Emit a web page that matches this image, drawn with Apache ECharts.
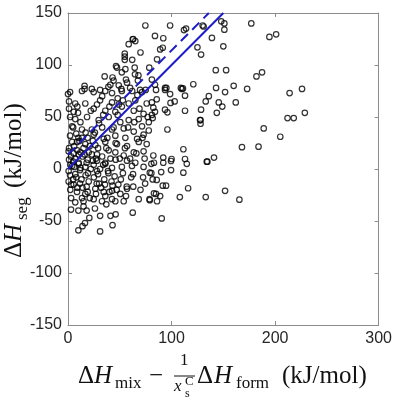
<!DOCTYPE html>
<html>
<head>
<meta charset="utf-8">
<script src="https://cdn.jsdelivr.net/npm/echarts@6/dist/echarts.min.js"></script>
<style>
  html, body { margin: 0; padding: 0; background: #fff; }
  #chart { width: 395px; height: 397px; }
</style>
</head>
<body>
<div id="chart"></div>
<script>
// axis ticks
const xTicks = [0, 100, 200, 300];
const yTicks = [-150, -100, -50, 0, 50, 100, 150];

// scatter points, grouped by region
const rightTail = [
  [130,138],[131,137],[148,142],[151,140],[151,134],[177,140],[194.5,127],[201,129.5],[139,126],[150,118],
  [128.5,110],[142.7,95],[152.7,95],[182,89],[187.4,93],[143,78],[160,80],[173,77],[151.7,74],[136,70],
  [133,65],[145.6,64],[149,60],[162,64],[214,73],[226,77],[128.5,57],[143.7,54],[128,47],[128,43.5],
  [212,49],[218,49],[228.7,54],[189,39],[205,31],[168,21],[184,21.5],[134,7],[141,11],[133,-27],
  [151.7,-21],[165.5,-29.5]
];
const middleBand = [
  [83,6],[92,6],[99.5,7.7],[114.7,5],[79,-3.5],[90,-3],[99.5,-1],[111.4,-3.5],[81.8,-10],[85.7,-10.5],
  [91.5,-16],[94.7,-16],[116,-18.5],[83,-23.4],[85,-24],[89,-26],[79,-30],[86,-31],[108,-27],[90.5,-47.5],
  [85,76],[93.7,76],[110,77],[98.6,72],[113,70.5],[85.7,67],[81,64],[99,63.5],[103,65],[82.4,59],
  [84,55],[81,52],[81.8,49],[93.7,57],[96,54.5],[113,56],[127.5,47],[96,38],[111.4,19],[82.4,13],
  [92,11],[100,9.6],[113,9.6],[134.6,7],[98.6,138],[84,128],[92,125.7],[112,133.6],[114,135],[89,115],
  [91.5,116.6],[125,117],[86,105.5],[81,86],[84,81],[93.7,78],[95,78],[109,78],[111,77.5],[121,81.5]
];
const upperLeft = [
  [74.7,138],[62.5,124.7],[65,123],[58.6,120],[54.8,111],[54.8,108],[54.8,105],[46.4,99],[47.3,97.5],[55.4,96],
  [64.4,97.4],[78.5,97.4],[35.4,89],[44,85],[56,86],[68,90],[67.5,85],[40.9,81],[39,79],[49,80.5],
  [51.5,77],[57,83],[16,80],[23,77],[31,76],[16,77],[0,72],[64.7,91],[69.6,76],[63,125]
];
const denseUpper = [
  [2,74],[13.5,75],[24.8,74],[36,75],[42.5,73],[52,75],[62,75],[67,71],[71.5,74],
  [1,65],[7,63],[16.7,63],[31,66],[42.5,64],[49,62],[58.6,63],[65,66],[76,63],
  [1,58],[5.5,55],[9.7,54],[24.8,58],[36,56],[45.7,55],[52,60],[63.5,56],[73,53],
  [7,48],[18.4,50],[29.6,47],[39.3,50],[50.5,45],[58.6,47],[68.3,48],[78,45],
  [4,41],[13.5,38],[23,38],[33,40],[42.5,38],[53.8,39],[63.5,36],[71.5,41],[78,37],
  [2,32],[13.5,30],[24.8,33],[34.5,29],[45.7,32],[55.4,30],[66.7,29],[73,33],
  [4,26],[8.7,26],[16.7,24],[26.4,23],[36,26],[47.3,24],[57,22],[68.3,26],[76,24],
  [0.6,17],[5.5,15],[10.3,14],[20,16],[28,14],[39.3,18],[45.7,16],[53.8,13],[63.5,16],[73,17],
  [1,9],[5,7],[10.3,6],[19,9],[28,8],[36,6],[46,9],[57,8],[65,6]
];
const denseLower = [
  [2.2,4],[10.3,5],[16.7,2],[24.8,4],[36,5],[42.5,1],[52,2],[61.8,3],[73,2],[80.5,5],
  [0.6,-2],[7,-5],[11.6,-1],[19.3,-4],[29,-5],[38.6,-2],[45,-7],[53,-4],[62.8,-5],[72.5,-8],[80.5,-4],
  [0.6,-12],[5.5,-15],[11.6,-14],[18,-17],[27.7,-14],[35.7,-15],[42,-12],[48.6,-15],[56.7,-17],[63,-17],[74.5,-14],
  [2.2,-20],[8.7,-22],[16.7,-24],[26.4,-19],[34.5,-22],[42.5,-21],[50.5,-24],[57,-19],
  [13.5,-28],[15,-31],[24.8,-29],[32.8,-31],[42.5,-29],[45.7,-31],[53.8,-31],[68.3,-29],[78.7,-29],
  [2.9,-39],[10,-40],[62.5,-42],[31,-45],[41,-45],[46,-43.6],[20.6,-47],[16.4,-52],[14,-55],[10,-59],
  [31,-60],[43,-54]
];
const coreCluster = [
  [1,20],[3,12],[4,3],[6,22],[7,10],[8,-8],[9,18],[11,27],[12,1],[13,-10],[14,12],[15,20],[17,-6],[18,6],
  [19,30],[20,-12],[21,22],[22,0],[23,14],[25,-8],[26,35],[27,10],[28,-2],[29,20],[30,44],[31,0],[32,-18],
  [33,12],[34,52],[35,-10],[37,20],[38,30],[39,-4],[40,60],[41,10],[43,-16],[44,40],[46,25],[47,-20],
  [48,52],[50,10],[51,-10],[53,66],[55,20],[56,-26],[58,40],[60,10],[61,-8],[64,45],[66,15],[69,58],
  [70,-20],[72,30],[74,10],[77,50],[3,-28],[5,40],[7,-32],[2,50],[9,60],[12,45],[15,-36],[18,-40],
  [22,56],[26,-38],[28,62],[33,70],[37,-34],[43,88],[48,68],[52,93],[60,78],[62,105],[70,112],[75,76],
  [5,-10],[2,-6],[10,30],[16,14],[24,27],[19,-22],[8,34],[14,-18],[27,-24],[36,-26],
  [3,-15],[6,2],[9,-18],[12,16],[17,35],[21,-28],[24,8],[30,-14],[34,4],[40,-22]
];

// the two blue guide lines (end points)
const solidLine = [[0, 0], [150, 150]];
const dashedLine = [[0, 14], [136, 150]];

const allPoints = [].concat(rightTail, middleBand, upperLeft, denseUpper, denseLower, coreCluster);

const chart = echarts.init(document.getElementById('chart'), null, { renderer: 'canvas' });

const axisGray = '#8c8c8c';
const labelStyle = { fontFamily: 'Liberation Sans', fontSize: 16, color: '#262626' };
const ink = '#111';

const makeAxis = (extra) => Object.assign({
  type: 'value',
  axisLine: { show: true, onZero: false, lineStyle: { color: axisGray, width: 1 } },
  axisTick: { show: true, inside: true, length: 4, lineStyle: { color: axisGray } },
  splitLine: { show: false },
}, extra);

// small helper for the hand-set title pieces
const txt = (x, y, text, font) => ({
  type: 'text', x: x, y: y,
  style: { text: text, font: font, fill: ink, verticalAlign: 'middle' }
});
const big = '25px "Liberation Serif"';
const bigIt = 'italic 25px "Liberation Serif"';
const sub = '17px "Liberation Serif"';

const option = {
  animation: false,
  backgroundColor: '#fff',
  grid: { left: 68, right: 16, top: 13, bottom: 72 },
  xAxis: [
    makeAxis({ min: xTicks[0], max: xTicks[xTicks.length - 1], interval: 100, position: 'bottom',
      axisLabel: Object.assign({ margin: 6 }, labelStyle) }),
    makeAxis({ min: xTicks[0], max: xTicks[xTicks.length - 1], interval: 100, position: 'top',
      axisLabel: { show: false } })
  ],
  yAxis: [
    makeAxis({ min: yTicks[0], max: yTicks[yTicks.length - 1], interval: 50, position: 'left',
      axisLabel: Object.assign({ margin: 6 }, labelStyle) }),
    makeAxis({ min: yTicks[0], max: yTicks[yTicks.length - 1], interval: 50, position: 'right',
      axisLabel: { show: false } })
  ],
  series: [
    {
      type: 'scatter',
      data: allPoints,
      symbol: 'circle',
      symbolSize: 5.5,
      itemStyle: { color: 'rgba(0,0,0,0)', borderColor: '#000', borderWidth: 1.2 },
      z: 2
    },
    {
      type: 'line',
      data: solidLine,
      showSymbol: false,
      lineStyle: { color: '#1c1cc8', width: 2 },
      z: 3
    },
    {
      type: 'line',
      data: dashedLine,
      showSymbol: false,
      lineStyle: { color: '#1c1cc8', width: 2, type: [10, 6] },
      z: 3
    }
  ],
  graphic: [
    // x axis title
    { type: 'group', x: 0, y: 0, children: [
      txt(78, 376, 'Δ', big),
      txt(94, 376, 'H', bigIt),
      txt(115, 384, 'mix', sub),
      txt(149, 376, '−', big),
      txt(180, 361, '1', sub),
      { type: 'line', shape: { x1: 174, y1: 376, x2: 195, y2: 376 }, style: { stroke: ink, lineWidth: 1 } },
      txt(174, 387, 'x', 'italic 17px "Liberation Serif"'),
      txt(185, 382, 'C', '13px "Liberation Serif"'),
      txt(185, 394, 's', '12px "Liberation Serif"'),
      txt(197, 376, 'Δ', big),
      txt(214, 376, 'H', bigIt),
      txt(236, 384, 'form', sub),
      txt(282, 376, '(kJ/mol)', big)
    ]},
    // y axis title, rotated
    { type: 'group', x: 14, y: 258, rotation: Math.PI / 2, children: [
      txt(0, 0, 'Δ', big),
      txt(16, 0, 'H', bigIt),
      txt(38, 9, 'seg', sub),
      txt(70, 0, '(kJ/mol)', big)
    ]}
  ]
};

chart.setOption(option);
</script>
</body>
</html>
